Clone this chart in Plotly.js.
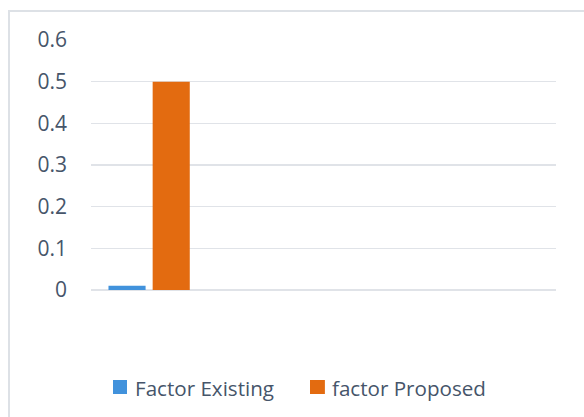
<!DOCTYPE html>
<html>
<head>
<meta charset="utf-8">
<script src="https://cdn.plot.ly/plotly-3.0.1.min.js"></script>
<style>
  html, body { margin: 0; padding: 0; background: #fff; }
  #wrap { position: relative; width: 584px; height: 417px; overflow: hidden; }
  #frame { position: absolute; left: 8px; top: 10px; width: 600px; height: 420px;
           border-left: 2px solid #DDE1E6; border-top: 2px solid #DDE1E6; pointer-events: none; }
  #chart { position: absolute; left: 0; top: 0; width: 584px; height: 417px; }
</style>
</head>
<body>
<div id="wrap">
  <div id="chart"></div>
  <div id="frame"></div>
</div>
<script>
// Data
var categories = ["1", "2", "3", "4"];
var seriesNames = ["Factor Existing", "factor Proposed"];
var existingValues = [0.01, null, null, null];
var proposedValues = [0.5, null, null, null];
var yTickValues = [0, 0.1, 0.2, 0.3, 0.4, 0.5, 0.6];
var yTickLabels = ["0", "0.1", "0.2", "0.3", "0.4", "0.5", "0.6"];

var seriesColors = ["#4192DC", "#E36B10"];
var textColor = "#46556A";
var gridColor = "#E0E3E8";

var traces = [
  {
    type: "bar",
    name: seriesNames[0],
    x: categories,
    y: existingValues,
    marker: { color: seriesColors[0] },
    hoverinfo: "skip"
  },
  {
    type: "bar",
    name: seriesNames[1],
    x: categories,
    y: proposedValues,
    marker: { color: seriesColors[1] },
    hoverinfo: "skip"
  }
];

// Custom legend (keys + labels) placed below the plot, positions in paper units
var legendKeyX = [[0.0473, 0.0774], [0.471, 0.503]];
var legendTextX = [0.0903, 0.514];
var legendKeyY = [-0.416, -0.36];
var legendTextY = -0.39;

var shapes = [];
var annotations = [];
for (var i = 0; i < seriesNames.length; i++) {
  shapes.push({
    type: "rect", xref: "paper", yref: "paper",
    x0: legendKeyX[i][0], x1: legendKeyX[i][1],
    y0: legendKeyY[0], y1: legendKeyY[1],
    fillcolor: seriesColors[i], line: { width: 0 }
  });
  annotations.push({
    xref: "paper", yref: "paper",
    x: legendTextX[i], y: legendTextY,
    xanchor: "left", yanchor: "middle",
    text: seriesNames[i], showarrow: false,
    font: { size: 20.6, color: textColor }
  });
}

var layout = {
  width: 584,
  height: 417,
  margin: { l: 91, r: 28, t: 40, b: 127 },
  paper_bgcolor: "#ffffff",
  plot_bgcolor: "#ffffff",
  barmode: "group",
  bargap: 0.24,
  bargroupgap: 0.16,
  font: { family: "Open Sans, sans-serif", size: 20, color: textColor },
  showlegend: false,
  shapes: shapes,
  annotations: annotations,
  xaxis: {
    type: "category",
    categoryorder: "array",
    categoryarray: categories,
    range: [-0.5, 3.5],
    showticklabels: false,
    showgrid: false,
    zeroline: false,
    showline: false,
    ticks: ""
  },
  yaxis: {
    range: [0, 0.6],
    tickvals: yTickValues,
    ticktext: yTickLabels,
    showgrid: true,
    gridcolor: gridColor,
    gridwidth: 1.5,
    zeroline: true,
    zerolinecolor: gridColor,
    zerolinewidth: 1.5,
    showline: false,
    ticks: "",
    ticklabelstandoff: 23,
    tickfont: { size: 21, color: textColor }
  }
};

Plotly.newPlot("chart", traces, layout, { staticPlot: true, displayModeBar: false });
</script>
</body>
</html>
